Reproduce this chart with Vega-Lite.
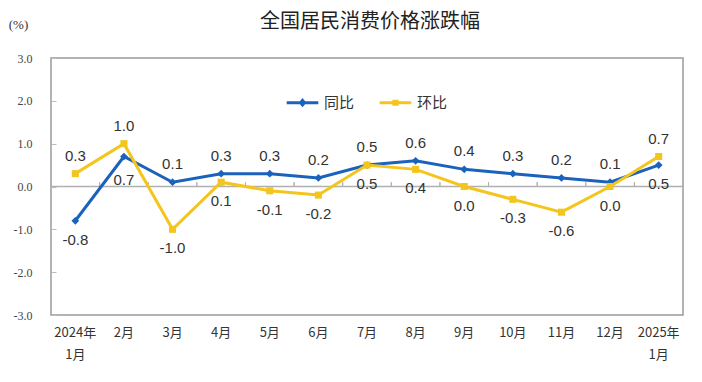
{
  "$schema": "https://vega.github.io/schema/vega-lite/v6.json",
  "width": 632,
  "height": 257,
  "autosize": {"type": "none"},
  "padding": {"left": 51, "top": 58, "right": 19, "bottom": 67},
  "background": "white",
  "title": {
    "text": "全国居民消费价格涨跌幅",
    "font": "Noto Sans CJK SC",
    "fontSize": 20,
    "fontWeight": "normal",
    "color": "#222",
    "anchor": "middle",
    "dx": 3,
    "offset": -14
  },
  "config": {
    "view": {"stroke": "#9a9a9a", "strokeWidth": 1.5},
    "axis": {"grid": false},
    "locale": {"number": {"decimal": ".", "thousands": ",", "grouping": [3], "currency": ["$", ""], "minus": "-"}}
  },
  "data": {
    "values": [
      {"m": "2024年|1月", "s": "同比", "v": -0.8, "lp": "below"},
      {"m": "2月", "s": "同比", "v": 0.7, "lp": "below2"},
      {"m": "3月", "s": "同比", "v": 0.1, "lp": "above"},
      {"m": "4月", "s": "同比", "v": 0.3, "lp": "above"},
      {"m": "5月", "s": "同比", "v": 0.3, "lp": "above"},
      {"m": "6月", "s": "同比", "v": 0.2, "lp": "above"},
      {"m": "7月", "s": "同比", "v": 0.5, "lp": "above"},
      {"m": "8月", "s": "同比", "v": 0.6, "lp": "above"},
      {"m": "9月", "s": "同比", "v": 0.4, "lp": "above"},
      {"m": "10月", "s": "同比", "v": 0.3, "lp": "above"},
      {"m": "11月", "s": "同比", "v": 0.2, "lp": "above"},
      {"m": "12月", "s": "同比", "v": 0.1, "lp": "above"},
      {"m": "2025年|1月", "s": "同比", "v": 0.5, "lp": "below"},
      {"m": "2024年|1月", "s": "环比", "v": 0.3, "lp": "above"},
      {"m": "2月", "s": "环比", "v": 1.0, "lp": "above"},
      {"m": "3月", "s": "环比", "v": -1.0, "lp": "below"},
      {"m": "4月", "s": "环比", "v": 0.1, "lp": "below"},
      {"m": "5月", "s": "环比", "v": -0.1, "lp": "below"},
      {"m": "6月", "s": "环比", "v": -0.2, "lp": "below"},
      {"m": "7月", "s": "环比", "v": 0.5, "lp": "below"},
      {"m": "8月", "s": "环比", "v": 0.4, "lp": "below"},
      {"m": "9月", "s": "环比", "v": 0.0, "lp": "below"},
      {"m": "10月", "s": "环比", "v": -0.3, "lp": "below"},
      {"m": "11月", "s": "环比", "v": -0.6, "lp": "below"},
      {"m": "12月", "s": "环比", "v": 0.0, "lp": "below"},
      {"m": "2025年|1月", "s": "环比", "v": 0.7, "lp": "above"}
    ]
  },
  "encoding": {
    "x": {
      "field": "m",
      "type": "nominal",
      "sort": null,
      "scale": {"type": "band", "paddingInner": 0, "paddingOuter": 0},
      "axis": {
        "title": null,
        "labelAngle": 0,
        "labelExpr": "split(datum.value, '|')",
        "labelFont": "Noto Sans CJK SC",
        "labelFontSize": 13,
        "labelColor": "#333",
        "labelPadding": 11,
        "labelBaseline": "top",
        "labelLineHeight": 22,
        "domain": false,
        "ticks": false
      }
    },
    "y": {
      "field": "v",
      "type": "quantitative",
      "scale": {"domain": [-3, 3], "nice": false},
      "axis": {
        "title": "(%)",
        "titleAngle": 0,
        "titleX": -33,
        "titleY": -27,
        "titleFont": "Liberation Serif",
        "titleFontSize": 13,
        "titleFontWeight": "normal",
        "titleColor": "#333",
        "values": [-3, -2, -1, 0, 1, 2, 3],
        "format": ".1f",
        "labelFont": "Liberation Serif",
        "labelFontSize": 12,
        "labelColor": "#444",
        "tickSize": -5,
        "tickColor": "#bbb",
        "labelPadding": 24,
        "domain": false
      }
    }
  },
  "layer": [
    {
      "mark": {"type": "rule", "color": "#b0b0b0", "strokeWidth": 1.5},
      "data": {"values": [{"z": 0}]},
      "encoding": {"y": {"field": "z", "type": "quantitative"}, "x": null}
    },
    {
      "mark": {"type": "rule", "color": "#b0b0b0", "strokeWidth": 1},
      "encoding": {
        "x": {"field": "m", "type": "nominal", "sort": null, "bandPosition": 0},
        "y": {"datum": 0},
        "y2": {"datum": 0.1}
      }
    },
    {
      "mark": {"type": "line", "strokeWidth": 3},
      "encoding": {
        "color": {
          "field": "s",
          "type": "nominal",
          "scale": {"domain": ["同比", "环比"], "range": ["#1b62bd", "#f4c51c"]},
          "legend": {
            "title": null,
            "orient": "none",
            "legendX": 234,
            "legendY": 27,
            "direction": "horizontal",
            "symbolType": "M-1,0H1",
            "symbolSize": 1000,
            "symbolStrokeWidth": 3,
            "labelFont": "Noto Sans CJK SC",
            "labelFontSize": 15,
            "labelColor": "#333",
            "columnPadding": 18,
            "encode": {
              "symbols": {
                "update": {
                  "shape": {"signal": "datum.value == '同比' ? 'M-1,0H1M-0.12,0L0,-0.14L0.12,0L0,0.14Z' : 'M-1,0H1M-0.1,-0.1H0.1V0.1H-0.1Z'"}
                }
              }
            }
          }
        }
      }
    },
    {
      "transform": [{"filter": "datum.s == '同比'"}],
      "mark": {"type": "point", "filled": true, "size": 60, "opacity": 1, "shape": "diamond"},
      "encoding": {"color": {"field": "s", "type": "nominal", "legend": null}}
    },
    {
      "transform": [{"filter": "datum.s == '环比'"}],
      "mark": {"type": "point", "filled": true, "size": 50, "opacity": 1, "shape": "square"},
      "encoding": {"color": {"field": "s", "type": "nominal", "legend": null}}
    },
    {
      "transform": [{"filter": "datum.lp == 'above'"}],
      "mark": {"type": "text", "dy": -18, "font": "Liberation Sans", "fontSize": 15, "color": "#333"},
      "encoding": {"text": {"field": "v", "type": "quantitative", "format": ".1f"}}
    },
    {
      "transform": [{"filter": "datum.lp == 'below'"}],
      "mark": {"type": "text", "dy": 19, "font": "Liberation Sans", "fontSize": 15, "color": "#333"},
      "encoding": {"text": {"field": "v", "type": "quantitative", "format": ".1f"}}
    },
    {
      "transform": [{"filter": "datum.lp == 'below2'"}],
      "mark": {"type": "text", "dy": 23, "font": "Liberation Sans", "fontSize": 15, "color": "#333"},
      "encoding": {"text": {"field": "v", "type": "quantitative", "format": ".1f"}}
    }
  ]
}
